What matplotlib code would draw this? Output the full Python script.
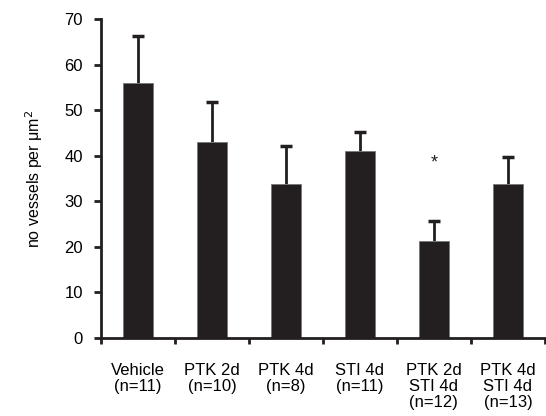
import matplotlib
matplotlib.use('Agg')
import matplotlib.pyplot as plt
import numpy as np

plt.rcParams['font.family'] = ['Liberation Sans', 'DejaVu Sans']

# data
groups = ['Vehicle\n(n=11)', 'PTK 2d\n(n=10)', 'PTK 4d\n(n=8)', 'STI 4d\n(n=11)',
          'PTK 2d\nSTI 4d\n(n=12)', 'PTK 4d\nSTI 4d\n(n=13)']
means = [56, 43, 33.7, 41, 21.2, 33.7]
errors = [10.3, 8.7, 8.4, 4.2, 4.5, 6.1]
star_idx = 4
star_y = 38.5

dark = '#231f20'

fig = plt.figure(figsize=(5.46, 4.16), dpi=100)
ax = fig.add_axes([0.185, 0.1875, 0.813, 0.767])

x = np.arange(len(groups))
tops = np.array(means) + np.array(errors)
ax.vlines(x, means, tops, color=dark, linewidth=2, zorder=1)
ax.plot(x, tops, linestyle='none', marker='_', markersize=8, mew=2.5, color=dark, zorder=1)
ax.bar(x, means, width=0.4, color=dark, edgecolor='#777777', linewidth=0.6, zorder=2)
ax.text(x[star_idx], star_y, '*', ha='center', va='center', fontsize=13, color=dark)

ax.set_xlim(-0.5, len(groups) - 0.5)
ax.set_ylim(0, 70)
ax.set_yticks(range(0, 71, 10))
ax.set_xticks(np.arange(-0.5, len(groups), 1.0))
ax.set_xticklabels([])
ax.set_xticks(x, minor=True)
ax.set_xticklabels(groups, minor=True, fontsize=12, linespacing=1.1)
ax.tick_params(axis='x', which='minor', length=0, pad=18)
ax.tick_params(axis='x', which='major', length=4, width=2, direction='out', color=dark)
ax.tick_params(axis='y', length=5, width=2, direction='out', color=dark, labelsize=12, pad=8)

for s in ['top', 'right']:
    ax.spines[s].set_visible(False)
for s in ['left', 'bottom']:
    ax.spines[s].set_linewidth(2)
    ax.spines[s].set_color(dark)

ax.set_ylabel('no vessels per μm$^2$', fontsize=11.5, labelpad=14)

fig.savefig('out.png', dpi=100)
